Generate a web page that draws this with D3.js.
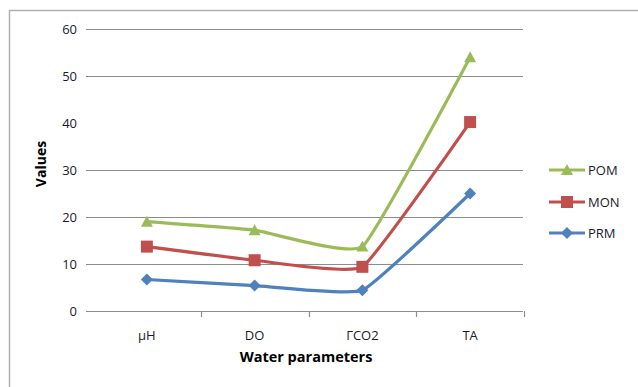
<!DOCTYPE html>
<html>
<head>
<meta charset="utf-8">
<script src="https://cdn.jsdelivr.net/npm/d3@7"></script>
<style>
body{margin:0;background:#fff;}
svg{display:block;}
text{font-family:"Open Sans","Liberation Sans",sans-serif;fill:#1a1a2e;}
</style>
</head>
<body>
<svg id="c" width="638" height="387"></svg>
<script>
const categories = ["\u03bcH", "DO", "\u0413CO2", "TA"];
const seriesNames = ["POM", "MON", "PRM"];
const pomValues = [19.0, 17.2, 13.7, 54.0];
const monValues = [13.7, 10.8, 9.4, 40.2];
const prmValues = [6.7, 5.4, 4.4, 25.0];
const yTicks = [0, 10, 20, 30, 40, 50, 60];
const gridTicks = [0, 10, 20, 30, 50, 60];
const colors = {POM: "#9BBB59", MON: "#C0504D", PRM: "#4F81BD"};

const series = [
  {name: "POM", values: pomValues, shape: "triangle"},
  {name: "MON", values: monValues, shape: "square"},
  {name: "PRM", values: prmValues, shape: "diamond"}
];

const svg = d3.select("#c");
// outer frame
svg.append("path").attr("d", "M9.5,400 V10.5 H650")
  .attr("fill", "none").attr("stroke", "#b0b0b0").attr("stroke-width", 1.5);

const x = d3.scaleBand().domain(categories).range([93, 524]);
const y = d3.scaleLinear().domain([0, 60]).range([311, 29]);

// gridlines
svg.append("g").selectAll("line").data(gridTicks).join("line")
  .attr("x1", 86).attr("x2", 523)
  .attr("y1", d => Math.round(y(d)) + 0.5).attr("y2", d => Math.round(y(d)) + 0.5)
  .attr("stroke", "#8c8c8c").attr("stroke-width", 1.2);

// y tick labels
svg.append("g").selectAll("text").data(yTicks).join("text")
  .attr("x", 77).attr("y", d => y(d)).attr("dy", "0.35em")
  .attr("text-anchor", "end").attr("font-size", 13).text(d => d);

// x tick marks at band boundaries
const bounds = categories.map(c => x(c) + x.bandwidth());
svg.append("g").selectAll("line").data(bounds).join("line")
  .attr("x1", d => Math.round(d) + 0.5).attr("x2", d => Math.round(d) + 0.5)
  .attr("y1", 311).attr("y2", 317)
  .attr("stroke", "#8c8c8c").attr("stroke-width", 1.2);

// x labels
svg.append("g").selectAll("text").data(categories).join("text")
  .attr("x", d => x(d) + x.bandwidth() / 2).attr("y", 340)
  .attr("text-anchor", "middle").attr("font-size", 13).text(d => d);

// axis titles
svg.append("text").attr("x", 306).attr("y", 362).attr("text-anchor", "middle")
  .attr("font-size", 14.5).attr("font-weight", "bold").style("fill", "#000")
  .text("Water parameters");
svg.append("text").attr("transform", "translate(46,164) rotate(-90)")
  .attr("text-anchor", "middle").attr("font-size", 14).attr("font-weight", "bold")
  .style("fill", "#000").text("Values");

const line = d3.line()
  .x((d, i) => x(categories[i]) + x.bandwidth() / 2)
  .y(d => y(d))
  .curve(d3.curveCardinal.tension(0.65));

function marker(g, shape, cx, cy, color) {
  if (shape === "triangle") {
    g.append("path").attr("d", `M${cx},${cy-6} L${cx+6},${cy+5} L${cx-6},${cy+5} Z`).attr("fill", color);
  } else if (shape === "square") {
    g.append("rect").attr("x", cx-6).attr("y", cy-6).attr("width", 12).attr("height", 12).attr("fill", color);
  } else {
    g.append("path").attr("d", `M${cx},${cy-6} L${cx+6},${cy} L${cx},${cy+6} L${cx-6},${cy} Z`).attr("fill", color);
  }
}

[...series].reverse().forEach(s => {
  const g = svg.append("g");
  g.append("path").datum(s.values).attr("d", line)
    .attr("fill", "none").attr("stroke", colors[s.name]).attr("stroke-width", 3.2)
    .attr("stroke-linejoin", "round");
  s.values.forEach((v, i) => marker(g, s.shape, x(categories[i]) + x.bandwidth() / 2, y(v), colors[s.name]));
});

// legend
const legY = [170, 202, 233];
series.forEach((s, i) => {
  const g = svg.append("g");
  g.append("line").attr("x1", 549).attr("x2", 585).attr("y1", legY[i]).attr("y2", legY[i])
    .attr("stroke", colors[s.name]).attr("stroke-width", 3);
  marker(g, s.shape, 567, legY[i], colors[s.name]);
  g.append("text").attr("x", 588).attr("y", legY[i]).attr("dy", "0.36em")
    .attr("font-size", 13).text(s.name);
});
</script>
</body>
</html>
